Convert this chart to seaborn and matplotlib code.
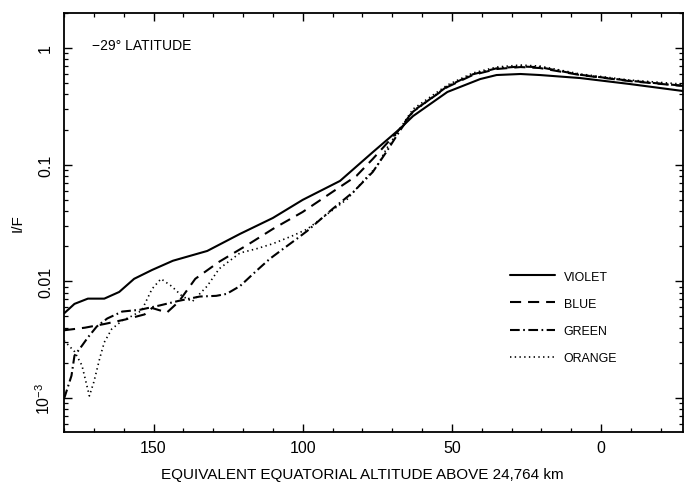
import matplotlib
matplotlib.use("Agg")
import matplotlib.pyplot as plt
import seaborn as sns
import pandas as pd
from matplotlib.ticker import MultipleLocator, LogLocator, NullFormatter, FixedLocator, FixedFormatter

# ---------------- data ----------------
violet_x = [180, 176.5, 172, 166.5, 161.5, 156.5, 150.5, 143.5, 132, 121, 110, 100, 87.5,
            76.5, 67.5, 63, 51.5, 40.5, 35, 27, 20.5, 7, -9.5, -27.5]
violet_y = [0.0053, 0.0064, 0.0071, 0.0071, 0.0081, 0.0105, 0.0125, 0.0150, 0.0182, 0.0255,
            0.0349, 0.0499, 0.0725, 0.128, 0.202, 0.261, 0.420, 0.542, 0.587, 0.599, 0.587,
            0.553, 0.492, 0.428]

blue_x = [180, 173, 166.5, 159.5, 153, 150.5, 145.5, 141.5, 136, 128, 118, 110, 100, 90, 82,
          76.5, 71, 67.5, 63, 51.5, 43, 35, 27, 20.5, 7, -9.5, -27.5]
blue_y = [0.0038, 0.0040, 0.0043, 0.0047, 0.0052, 0.0059, 0.0054, 0.0067, 0.0105, 0.0147,
          0.0209, 0.0281, 0.0393, 0.0584, 0.080, 0.112, 0.160, 0.202, 0.288, 0.463, 0.587,
          0.661, 0.687, 0.674, 0.587, 0.521, 0.473]

green_x = [180, 177.5, 176.5, 174, 172, 169, 165.5, 160.5, 154.5, 148, 141.5, 134.5, 129,
           125.5, 121, 115.5, 111, 106.5, 102, 98.5, 90, 83, 76.5, 72, 67.5, 63, 51.5, 43,
           35, 27, 20.5, 7, -9.5, -27.5]
green_y = [0.00098, 0.00155, 0.0023, 0.0028, 0.0033, 0.0041, 0.0048, 0.0055, 0.0057, 0.0062,
           0.0068, 0.0074, 0.0075, 0.0078, 0.0091, 0.0123, 0.0156, 0.019, 0.0231, 0.027,
           0.0417, 0.0584, 0.0866, 0.128, 0.194, 0.285, 0.47, 0.595, 0.67, 0.695, 0.685,
           0.59, 0.525, 0.475]

orange_x = [180, 176.5, 174, 171.5, 170, 168, 166.5, 164, 160.5, 157.5, 154, 150.5, 147.5,
            144, 140.5, 137, 132, 128, 121, 115.5, 110, 103.5, 98.5, 85, 80, 75, 72, 67.5,
            63, 51.5, 43, 35, 27, 20.5, 7, -9.5, -27.5]
orange_y = [0.0031, 0.0025, 0.0019, 0.00104, 0.00137, 0.0022, 0.0030, 0.0039, 0.0046, 0.0050,
            0.0056, 0.0086, 0.0105, 0.0091, 0.0075, 0.0067, 0.0091, 0.0128, 0.0175, 0.019,
            0.021, 0.0245, 0.028, 0.0508, 0.071, 0.0975, 0.136, 0.202, 0.30, 0.482, 0.61,
            0.687, 0.715, 0.70, 0.599, 0.532, 0.49]

series_names = ["VIOLET", "BLUE", "GREEN", "ORANGE"]
x_ticks = [150, 100, 50, 0]
y_ticks = [1e-3, 1e-2, 1e-1, 1]
y_tick_labels = ["$10^{-3}$", "0.01", "0.1", "1"]

# ---------------- style ----------------
sns.set_theme(style="ticks")
plt.rcParams["font.family"] = ["Liberation Sans", "DejaVu Sans"]
plt.rcParams["mathtext.fontset"] = "custom"
plt.rcParams["mathtext.rm"] = "Liberation Sans"
plt.rcParams["mathtext.it"] = "Liberation Sans:italic"
plt.rcParams["lines.scale_dashes"] = False
plt.rcParams["text.color"] = "black"
plt.rcParams["axes.labelcolor"] = "black"
plt.rcParams["xtick.color"] = "black"
plt.rcParams["ytick.color"] = "black"

fig = plt.figure(figsize=(6.84, 4.89), dpi=100)
ax = fig.add_axes([0.0936, 0.1145, 0.905, 0.857])

styles = {
    "VIOLET": dict(linestyle="-", linewidth=1.5),
    "BLUE": dict(linestyle=(0, (8, 5)), linewidth=1.5),
    "GREEN": dict(linestyle=(0, (7, 2.5, 1.2, 2.5)), linewidth=1.5),
    "ORANGE": dict(linestyle=(0, (1.0, 2.4)), linewidth=1.2),
}
data = {"VIOLET": (violet_x, violet_y), "BLUE": (blue_x, blue_y),
        "GREEN": (green_x, green_y), "ORANGE": (orange_x, orange_y)}

for name in series_names:
    xs, ys = data[name]
    df = pd.DataFrame({"x": xs, "y": ys})
    sns.lineplot(data=df, x="x", y="y", ax=ax, color="black", label=name,
                 estimator=None, sort=False, **styles[name])

ax.set_yscale("log")
ax.set_xlim(180, -27.5)
ax.set_ylim(5.1e-4, 2.0)

ax.xaxis.set_major_locator(FixedLocator(x_ticks))
ax.xaxis.set_minor_locator(MultipleLocator(10))
ax.yaxis.set_major_locator(FixedLocator(y_ticks))
ax.yaxis.set_major_formatter(FixedFormatter(y_tick_labels))
ax.yaxis.set_minor_locator(LogLocator(base=10, subs=[2, 3, 4, 5, 6, 7, 8, 9], numticks=20))
ax.yaxis.set_minor_formatter(NullFormatter())

ax.tick_params(which="both", direction="in", top=True, right=True, colors="black",
               labelsize=11.5)
ax.tick_params(which="major", length=5.8, width=1.0)
ax.tick_params(which="minor", length=3.0, width=0.9)
ax.tick_params(axis="y", which="major", pad=8.0)
ax.tick_params(axis="x", which="major", pad=6.0)
for lab in ax.get_yticklabels():
    lab.set_rotation(90)
    lab.set_va("center")

for sp in ax.spines.values():
    sp.set_linewidth(1.3)
    sp.set_color("black")

ax.set_xlabel("EQUIVALENT EQUATORIAL ALTITUDE ABOVE 24,764 km", fontsize=11)
ax.xaxis.set_label_coords(0.482, -0.101)
ax.xaxis.label.set_va("center")
ax.set_ylabel("I/F", fontsize=11, labelpad=7)

ax.text(0.045, 0.924, "\u221229\u00b0 LATITUDE", transform=ax.transAxes,
        fontsize=10, va="center", ha="left")

leg = ax.legend(loc="upper left", bbox_to_anchor=(0.7205, 0.385), frameon=False,
                fontsize=8.9, handlelength=3.6, handletextpad=0.75, labelspacing=1.22,
                borderpad=0, borderaxespad=0)
for h in leg.get_lines():
    h.set_color("black")

fig.savefig("out.png", dpi=100)
